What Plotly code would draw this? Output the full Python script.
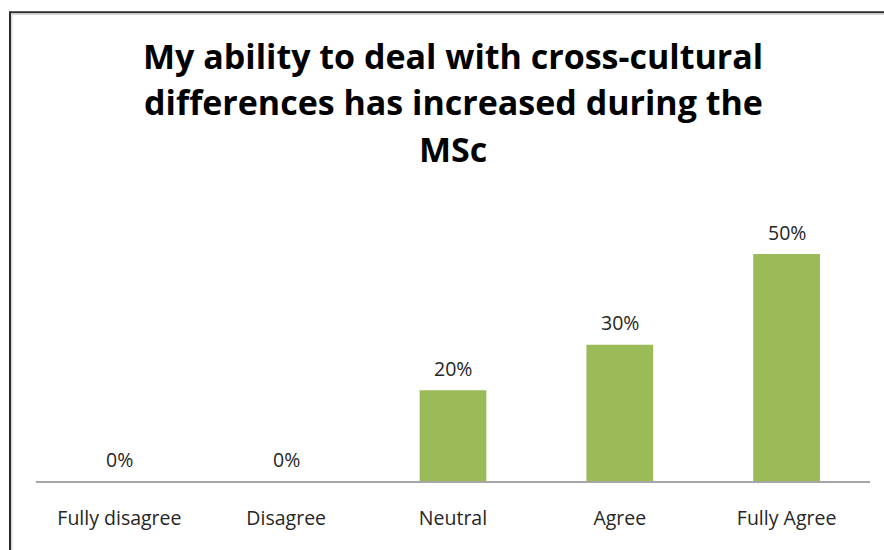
import plotly.graph_objects as go

# Survey answers and share of respondents (%)
categories = ["Fully disagree", "Disagree", "Neutral", "Agree", "Fully Agree"]
shares = [0, 0, 20, 30, 50]
title_lines = [
    "My ability to deal with cross-cultural",
    "differences has increased during the",
    "MSc",
]

FONT = "Open Sans"
BAR_COLOR = "#9BBB59"
TEXT_COLOR = "#262626"

fig = go.Figure(
    go.Bar(
        x=categories,
        y=shares,
        marker=dict(color=BAR_COLOR, line=dict(width=0)),
        width=0.4,
        hoverinfo="skip",
    )
)

# Value labels above each bar
for cat, val in zip(categories, shares):
    fig.add_annotation(
        x=cat, y=val, text=f"{val}%", showarrow=False,
        yshift=22, yanchor="middle",
        font=dict(family=FONT, size=19.5, color=TEXT_COLOR),
    )

# Three-line bold title
title_y = [1.462, 1.302, 1.142]
for line, ty in zip(title_lines, title_y):
    fig.add_annotation(
        x=0.5, y=ty, xref="paper", yref="paper", text=f"<b>{line}</b>",
        showarrow=False, xanchor="center", yanchor="middle",
        font=dict(family=FONT, size=34, color="#000000"),
    )

# Chart frame (top and left edges visible)
fig.add_shape(type="rect", xref="paper", yref="paper",
              x0=-0.0312, x1=1.2, y0=-0.5, y1=1.611,
              line=dict(color="#2b2b2b", width=2), fillcolor="rgba(0,0,0,0)", layer="below")
fig.add_shape(type="rect", xref="paper", yref="paper",
              x0=-0.0290, x1=1.2, y0=-0.5, y1=1.604,
              line=dict(color="#c8c8c8", width=1), fillcolor="rgba(0,0,0,0)", layer="below")

fig.update_layout(
    width=884, height=550,
    margin=dict(l=36, r=14, t=190, b=69),
    paper_bgcolor="white", plot_bgcolor="white",
    showlegend=False,
    bargap=0.6,
    font=dict(family=FONT, color=TEXT_COLOR),
)
fig.update_xaxes(
    showline=True, linecolor="#A6A6A6", linewidth=1.5,
    ticks="outside", ticklen=19, tickcolor="rgba(0,0,0,0)",
    tickfont=dict(family=FONT, size=19.5, color=TEXT_COLOR),
    showgrid=False, fixedrange=True,
)
fig.update_yaxes(
    range=[0, 64.1], visible=False, showgrid=False, zeroline=False, fixedrange=True,
)

fig.write_html("out.html", config={"displayModeBar": False})
